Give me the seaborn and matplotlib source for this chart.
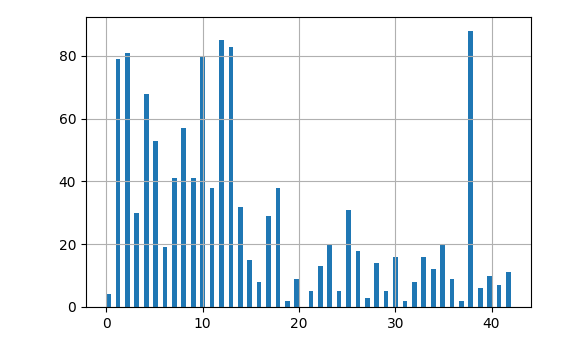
import matplotlib
matplotlib.use("Agg")
import matplotlib.pyplot as plt
import seaborn as sns
import numpy as np

values = list(range(43))
counts = [4, 79, 81, 30, 68, 53, 19, 41, 57, 41,
          80, 38, 85, 83, 32, 15, 8, 29, 38, 2,
          9, 5, 13, 20, 5, 31, 18, 3, 14, 5,
          16, 2, 8, 16, 12, 20, 9, 2, 88, 6,
          10, 7, 11]

plt.rcParams['font.family'] = ['DejaVu Sans']
plt.rcParams['font.size'] = 10

fig = plt.figure(figsize=(5.84, 3.49), dpi=100)
ax = fig.add_axes([86/584, 1-307/349, (531-86)/584, (307-17)/349])

sns.histplot(x=values, weights=counts, bins=86, binrange=(0, 42),
             color='#1f77b4', alpha=1.0, linewidth=0, edgecolor='none', ax=ax)

ax.grid(True, color='#b0b0b0', linewidth=0.8)
ax.set_xlabel('')
ax.set_ylabel('')
ax.set_xticks([0, 10, 20, 30, 40])
ax.set_yticks([0, 20, 40, 60, 80])
for s in ax.spines.values():
    s.set_color('black')
    s.set_linewidth(0.8)

fig.savefig('out.png', dpi=100)
